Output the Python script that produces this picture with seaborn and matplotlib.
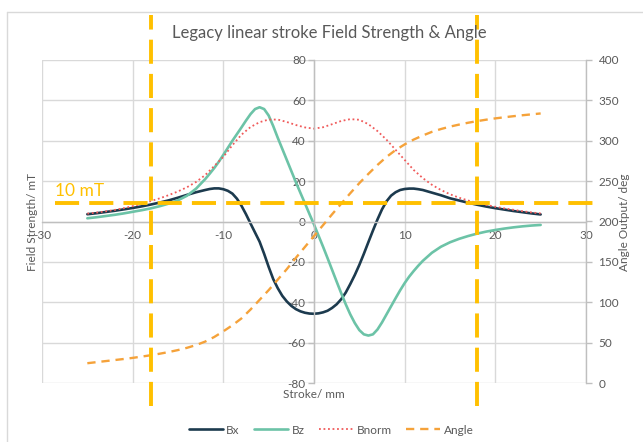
import matplotlib
matplotlib.use("Agg")
import matplotlib.pyplot as plt
import matplotlib.lines as mlines
import seaborn as sns
import pandas as pd

# ---------------- data ----------------
# coarse grid (1 mm) for Bnorm and Angle
stroke = list(range(-25, 26))

bnorm = [3.9, 4.4, 5.0, 5.7, 6.6, 7.6, 8.8, 10.1, 11.5, 13.1, 14.9, 17.0, 19.6, 23.0, 27.5,
         32.0, 37.8, 43.0, 46.8, 49.2, 50.5, 50.5, 49.3, 47.8, 46.6,
         46.0,
         46.7, 48.2, 49.8, 50.7, 50.4, 48.2, 44.8, 40.5, 35.5, 30.5, 25.5, 21.5, 18.2,
         15.6, 13.5, 11.8, 10.4, 9.2, 8.2, 7.3, 6.5, 5.8, 5.1, 4.5, 4.0]

angle = [24.5, 25.8, 27.1, 28.4, 29.7, 31.1, 32.7, 34.4, 36.3, 38.4, 40.8, 43.6, 47.0,
         51.3, 57.0, 64.0, 71.5, 80.0, 91.0, 103.0, 115.0, 128.0, 141.0, 155.0, 168.5,
         182.0,
         195.5, 209.0, 222.0, 235.0, 247.5, 259.0, 270.0, 280.0, 288.5, 295.5, 301.5,
         306.5, 311.0, 314.5, 317.5, 320.0, 322.3, 324.3, 326.1, 327.7, 329.1, 330.4,
         331.6, 332.7, 333.8]

# finer grid (0.5 mm in the centre) for Bx and Bz
stroke_fine = [-25, -24, -23, -22, -21, -20, -19, -18, -17, -16, -15, -14, -13,
               -12, -11.5, -11, -10.5, -10, -9.5, -9, -8.5, -8, -7.5, -7, -6.5, -6, -5.5,
               -5, -4.5, -4, -3.5, -3, -2.5, -2, -1.5, -1, -0.5, 0, 0.5, 1, 1.5, 2, 2.5,
               3, 3.5, 4, 4.5, 5, 5.5, 6, 6.5, 7, 7.5, 8, 8.5, 9, 9.5, 10, 10.5, 11, 11.5,
               12, 13, 14, 15, 16, 17, 18, 19, 20, 21, 22, 23, 24, 25]

bx = [3.6, 4.1, 4.7, 5.3, 6.0, 6.7, 7.5, 8.4, 9.4, 10.5, 11.8, 13.2, 14.5,
      15.6, 16.1, 16.4, 16.4, 16.0, 15.2, 13.8, 11.3, 7.8, 3.6, -1.0, -5.5, -10.0, -16.0,
      -22.5, -28.5, -33.0, -36.8, -39.6, -41.8, -43.4, -44.5, -45.2, -45.6, -45.7, -45.5,
      -45.0, -44.2, -42.8, -41.0, -38.5, -35.2, -31.0, -26.5, -21.5, -16.0, -10.2, -4.5,
      1.0, 6.0, 10.0, 12.8, 14.5, 15.6, 16.1, 16.3, 16.3, 16.0,
      15.6, 14.3, 13.0, 11.5, 10.4, 9.3, 8.3, 7.4, 6.6, 5.9, 5.2, 4.6, 4.0, 3.5]

bz = [1.6, 2.1, 2.7, 3.3, 4.0, 4.8, 5.6, 6.5, 7.6, 8.9, 10.5, 12.8, 16.3,
      21.0, 23.7, 26.5, 29.6, 33.0, 36.5, 40.0, 43.3, 46.6, 50.0, 53.2, 55.7, 56.6, 55.7,
      52.5, 47.3, 41.5, 36.0, 30.5, 25.0, 19.5, 14.2, 9.0, 3.7, -1.5, -7.0,
      -12.5, -18.2, -24.0, -29.8, -35.5, -41.0, -46.0, -50.3, -53.8, -55.9, -56.5, -55.9,
      -53.5, -50.0, -46.0, -42.0, -38.0, -34.1, -30.5, -27.3, -24.5, -21.9,
      -19.5, -15.5, -12.5, -10.3, -8.6, -7.2, -6.0, -5.0, -4.2, -3.5, -2.9, -2.4, -2.0, -1.7]

x_ticks = [-30, -20, -10, 0, 10, 20, 30]
y_ticks = [-80, -60, -40, -20, 0, 20, 40, 60, 80]
y2_ticks = [0, 50, 100, 150, 200, 250, 300, 350, 400]

stroke_limit = 18       # mm, vertical marker lines
field_threshold = 9     # mT, horizontal marker line ("10 mT")

df = pd.DataFrame({"Stroke": stroke, "Bnorm": bnorm, "Angle": angle})
df_fine = pd.DataFrame({"Stroke": stroke_fine, "Bx": bx, "Bz": bz})

# ---------------- style ----------------
sns.set_theme(style="white")
plt.rcParams["font.family"] = ["Lato", "DejaVu Sans"]
plt.rcParams["axes.unicode_minus"] = False

GREY_TXT = "#595959"
GRID = "#d9d9d9"
C_BX = "#1c3a4e"
C_BZ = "#6cc3a7"
C_BN = "#f05a5a"
C_AN = "#f5a23a"
GOLD = "#ffc000"

fig = plt.figure(figsize=(6.43, 4.42), dpi=100)
W, H = 643, 442
ax = fig.add_axes([42 / W, (H - 383) / H, (586 - 42) / W, (383 - 60) / H])
ax.set_facecolor("none")
ax2 = ax.twinx()

sns.lineplot(data=df_fine, x="Stroke", y="Bx", ax=ax, color=C_BX, linewidth=1.9, label="Bx", legend=False)
sns.lineplot(data=df_fine, x="Stroke", y="Bz", ax=ax, color=C_BZ, linewidth=1.9, label="Bz", legend=False)
sns.lineplot(data=df, x="Stroke", y="Bnorm", ax=ax, color=C_BN, linewidth=1.3,
             linestyle=(0, (1, 1.5)), label="Bnorm", legend=False)
sns.lineplot(data=df, x="Stroke", y="Angle", ax=ax2, color=C_AN, linewidth=1.7,
             linestyle=(0, (3.5, 2.5)), label="Angle", legend=False)

ax.set_xlim(-30, 30)
ax.set_ylim(-80, 80)
ax2.set_ylim(0, 400)
ax.set_xticks(x_ticks)
ax.set_yticks(y_ticks)
ax2.set_yticks(y2_ticks)
ax.set_xticklabels([str(t) for t in x_ticks])
ax.set_yticklabels([str(t) for t in y_ticks])
ax2.set_yticklabels([str(t) for t in y2_ticks])

ax.grid(True, color=GRID, linewidth=1.0)
ax.set_axisbelow(True)
ax2.grid(False)

for sp in ["top", "right"]:
    ax.spines[sp].set_visible(False)
ax.spines["left"].set_position(("data", 0))
ax.spines["bottom"].set_position(("data", 0))
for sp in ["left", "bottom"]:
    ax.spines[sp].set_color("#bfbfbf")
    ax.spines[sp].set_linewidth(1.0)
for sp in ["top", "left", "bottom"]:
    ax2.spines[sp].set_visible(False)
ax2.spines["right"].set_color("#bfbfbf")
ax2.spines["right"].set_linewidth(1.0)

ax.tick_params(axis="both", colors="#bfbfbf", labelcolor=GREY_TXT, labelsize=8.5, length=4, width=1)
ax.tick_params(axis="x", pad=2)
ax.tick_params(axis="y", pad=2)
ax2.tick_params(axis="y", colors="#bfbfbf", labelcolor=GREY_TXT, labelsize=8.5, length=4, width=1, pad=5)

ax.set_xlabel("")
ax.set_ylabel("")
ax2.set_ylabel("")
fig.text(314 / W, 1 - 395 / H, "Stroke/ mm", ha="center", va="center", fontsize=8.5, color=GREY_TXT)
fig.text(32 / W, 1 - 222 / H, "Field Strength/ mT", ha="center", va="center", rotation=90,
         fontsize=8.5, color=GREY_TXT)
fig.text(624 / W, 1 - 222 / H, "Angle Output/ deg", ha="center", va="center", rotation=90,
         fontsize=8.5, color=GREY_TXT)
fig.text(329 / W, 1 - 33 / H, "Legacy linear stroke Field Strength & Angle", ha="center", va="center",
         fontsize=12, color=GREY_TXT)

# marker lines (drawn on top)
trans_v = ax2.get_xaxis_transform()
for xv in (-stroke_limit, stroke_limit):
    ax2.add_line(mlines.Line2D([xv, xv], [-0.071, 1.139], transform=trans_v, color=GOLD,
                               linewidth=2.8, dashes=(6.2, 2.6), clip_on=False, zorder=10))
ax2.add_line(mlines.Line2D([-28.6, 31.2], [field_threshold, field_threshold], transform=ax.transData,
                           color=GOLD, linewidth=2.8, dashes=(6.2, 2.6), clip_on=False, zorder=10))
ax2.text(-28.6, field_threshold + 2.2, "10 mT", transform=ax.transData, color=GOLD, fontsize=12.5,
         ha="left", va="bottom", zorder=11)

# chart border (top and left edges visible)
fig.add_artist(mlines.Line2D([7 / W, 1.0], [1 - 12 / H, 1 - 12 / H], transform=fig.transFigure,
                             color="#d9d9d9", linewidth=1.0))
fig.add_artist(mlines.Line2D([7 / W, 7 / W], [0.0, 1 - 12 / H], transform=fig.transFigure,
                             color="#d9d9d9", linewidth=1.0))

# legend
h1, l1 = ax.get_legend_handles_labels()
h2, l2 = ax2.get_legend_handles_labels()
leg = fig.legend(h1 + h2, l1 + l2, loc="center", bbox_to_anchor=(331 / W, 1 - 430 / H), ncol=4,
                 frameon=False, fontsize=8.5, handlelength=2.9, handletextpad=0.3, columnspacing=1.2)
for t in leg.get_texts():
    t.set_color(GREY_TXT)

fig.savefig("out.png", dpi=100, facecolor="white")
